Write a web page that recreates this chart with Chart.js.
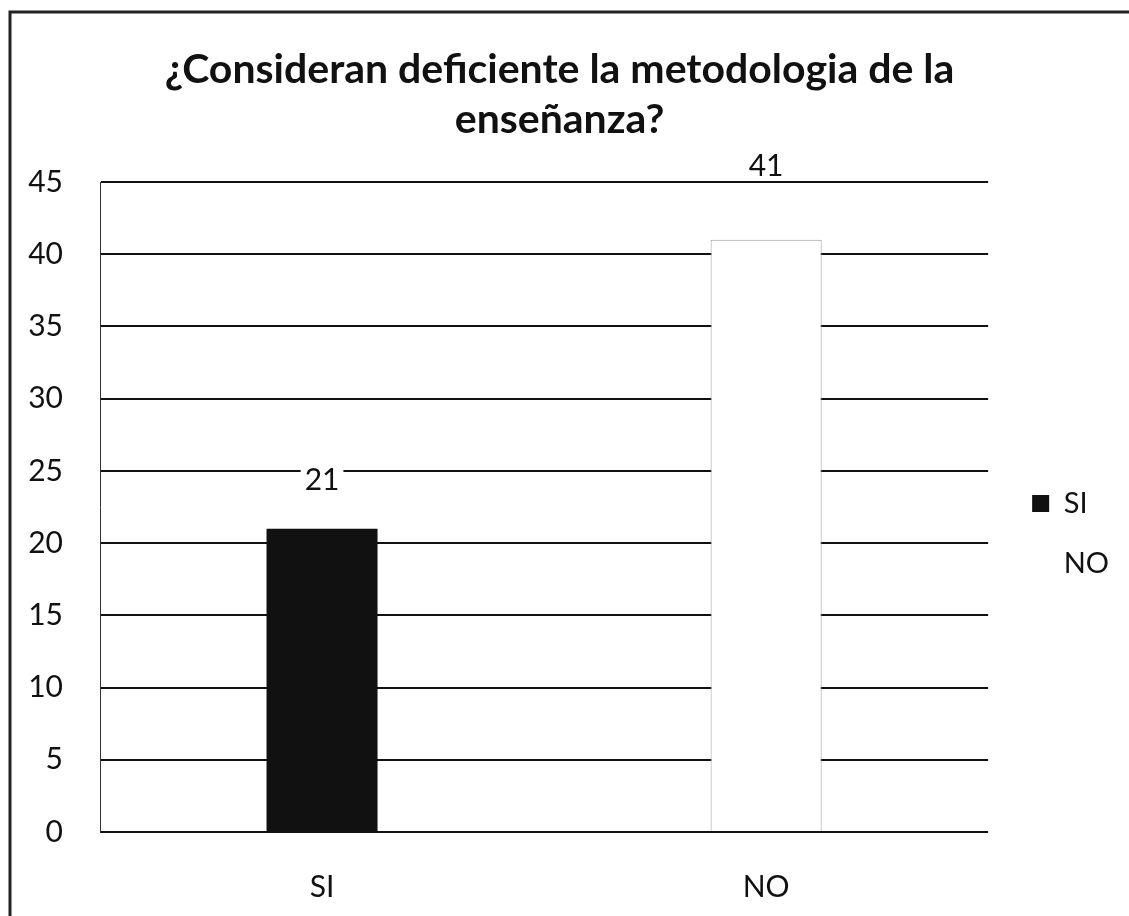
<!DOCTYPE html>
<html>
<head>
<meta charset="utf-8">
<script src="https://cdn.jsdelivr.net/npm/chart.js@4.4.0/dist/chart.umd.min.js"></script>
<style>
  html, body { margin: 0; padding: 0; background: #fff; }
  canvas { display: block; }
</style>
</head>
<body>
<canvas id="chart" width="1129" height="916"></canvas>
<script>
const categories = ["SI", "NO"];
const values = [21, 41];
const barColors = ["#111111", "#ffffff"];
const titleLines = ["¿Consideran deficiente la metodologia de la", "enseñanza?"];
const labelOffsets = [48, 73];

const FONT = "Lato, 'Open Sans', sans-serif";

// white page + the frame round the chart
const framePlugin = {
    id: "frame",
    beforeDraw(chart) {
        const ctx = chart.ctx;
        ctx.save();
        ctx.fillStyle = "#fff";
        ctx.fillRect(0, 0, chart.width, chart.height);
        ctx.strokeStyle = "#222";
        ctx.lineWidth = 3;
        ctx.strokeRect(10, 12, chart.width + 20, chart.height + 20);
        ctx.restore();
    }
};

// value labels above the bars
const valueLabels = {
    id: "valueLabels",
    afterDatasetsDraw(chart) {
        const ctx = chart.ctx;
        const meta = chart.getDatasetMeta(0);
        ctx.save();
        ctx.font = "30px " + FONT;
        ctx.textAlign = "center";
        ctx.textBaseline = "middle";
        meta.data.forEach((bar, i) => {
            const txt = String(values[i]);
            const y = bar.y - labelOffsets[i];
            const w = ctx.measureText(txt).width + 8;
            ctx.fillStyle = "#fff";
            ctx.fillRect(bar.x - w / 2, y - 13, w, 26);
            ctx.fillStyle = "#111";
            ctx.fillText(txt, bar.x, y);
        });
        ctx.restore();
    }
};

new Chart(document.getElementById("chart"), {
    type: "bar",
    data: {
        labels: categories,
        datasets: [{
            data: values,
            backgroundColor: barColors,
            borderColor: ["#111111", "#999999"],
            borderWidth: [0, 1],
            categoryPercentage: 1,
            barPercentage: 0.25
        }]
    },
    options: {
        responsive: false,
        animation: false,
        layout: { padding: { left: 0, right: 10, top: 0, bottom: 11 } },
        plugins: {
            title: {
                display: true,
                text: titleLines,
                color: "#111",
                font: { family: FONT, size: 41, weight: "bold", lineHeight: 50 / 41 },
                padding: { top: 45, bottom: 37 }
            },
            legend: {
                position: "right",
                title: { display: true, text: " ", font: { size: 1 }, padding: { top: 80, bottom: 81 } },
                labels: {
                    color: "#111",
                    font: { family: FONT, size: 29 },
                    boxWidth: 17,
                    boxHeight: 17,
                    padding: 31,
                    generateLabels: () => categories.map((c, i) => ({
                        text: c,
                        fillStyle: barColors[i],
                        strokeStyle: barColors[i],
                        lineWidth: 0,
                        fontColor: "#111",
                        index: i
                    }))
                }
            },
            tooltip: { enabled: false }
        },
        scales: {
            x: {
                grid: { display: false, drawTicks: false },
                border: { display: false },
                ticks: { color: "#111", font: { family: FONT, size: 30 }, padding: 37 },
                afterFit: (s) => { s.height = 73; }
            },
            y: {
                min: 0,
                max: 45,
                ticks: { stepSize: 5, color: "#111", font: { family: FONT, size: 30 }, padding: 37 },
                grid: { color: "#111", lineWidth: 2, drawTicks: false },
                border: { display: true, color: "#333", width: 1 },
                afterFit: (s) => { s.width = 100; }
            },
            gap: {
                position: "right",
                display: true,
                grid: { display: false, drawTicks: false },
                border: { display: false },
                ticks: { display: false },
                afterFit: (s) => { s.width = 13; }
            }
        }
    },
    plugins: [framePlugin, valueLabels]
});
</script>
</body>
</html>
